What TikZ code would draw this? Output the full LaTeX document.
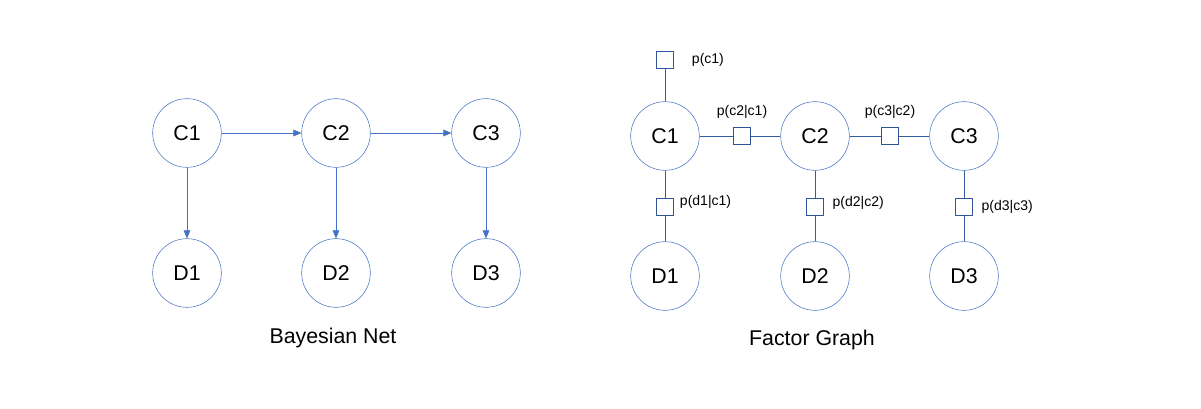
\documentclass[tikz,border=0pt]{standalone}
\usepackage{fontspec}
\setmainfont{Liberation Sans}
\usetikzlibrary{arrows.meta,positioning}
\definecolor{netblue}{HTML}{4472C4}
\definecolor{facblue}{HTML}{2F5597}
\tikzset{
  var/.style={circle, draw=netblue, minimum size=51.5pt, inner sep=0pt, font=\fontsize{16}{18}\selectfont},
  fac/.style={rectangle, draw=facblue, minimum size=13pt, inner sep=0pt},
  flabel/.style={font=\fontsize{10.5}{12}\selectfont},
  edge/.style={draw=netblue, -{Triangle[length=6pt,width=5pt]}},
  link/.style={draw=facblue!80!netblue}
}
\begin{document}
\begin{tikzpicture}[x=0.75pt,y=-0.75pt]
  \useasboundingbox (0,0) rectangle (1201,409);
  % Bayesian net
  \node[var] at (187,133) (bc1) {C1};
  \node[var] at (336,133) (bc2) {C2};
  \node[var] at (486,133) (bc3) {C3};
  \node[var] at (187,273) (bd1) {D1};
  \node[var] at (336,273) (bd2) {D2};
  \node[var] at (486,273) (bd3) {D3};
  \draw[edge] (bc1) -- (bc2);
  \draw[edge] (bc2) -- (bc3);
  \draw[edge] (bc1) -- (bd1);
  \draw[edge] (bc2) -- (bd2);
  \draw[edge] (bc3) -- (bd3);
  \node[font=\fontsize{16}{18}\selectfont] at (333,338) (bname) {Bayesian Net};
  % factor graph
  \node[var] at (665,136) (fc1) {C1};
  \node[var] at (815,136) (fc2) {C2};
  \node[var] at (964,136) (fc3) {C3};
  \node[var] at (665,276) (fd1) {D1};
  \node[var] at (815,276) (fd2) {D2};
  \node[var] at (964,276) (fd3) {D3};
  \node[fac] at (665,60) (pc1) {};
  \node[fac] at (742,136) (pc2c1) {};
  \node[fac] at (890,136) (pc3c2) {};
  \node[fac] at (665,207) (pd1c1) {};
  \node[fac] at (815,207) (pd2c2) {};
  \node[fac] at (964,207) (pd3c3) {};
  \draw[link] (pc1) -- (fc1);
  \draw[link] (fc1) -- (pc2c1) -- (fc2);
  \draw[link] (fc2) -- (pc3c2) -- (fc3);
  \draw[link] (fc1) -- (pd1c1) -- (fd1);
  \draw[link] (fc2) -- (pd2c2) -- (fd2);
  \draw[link] (fc3) -- (pd3c3) -- (fd3);
  \node[flabel, right=10pt of pc1] (lc1) {p(c1)};
  \node[flabel, above=3pt of pc2c1] (lc2c1) {p(c2|c1)};
  \node[flabel, above=3pt of pc3c2] (lc3c2) {p(c3|c2)};
  \node[flabel, right=1pt of pd1c1, yshift=4pt] (ld1c1) {p(d1|c1)};
  \node[flabel, right=3pt of pd2c2, yshift=3pt] (ld2c2) {p(d2|c2)};
  \node[flabel, right=3pt of pd3c3] (ld3c3) {p(d3|c3)};
  \node[font=\fontsize{16}{18}\selectfont] at (812,340) (fname) {Factor Graph};
\end{tikzpicture}
\end{document}
